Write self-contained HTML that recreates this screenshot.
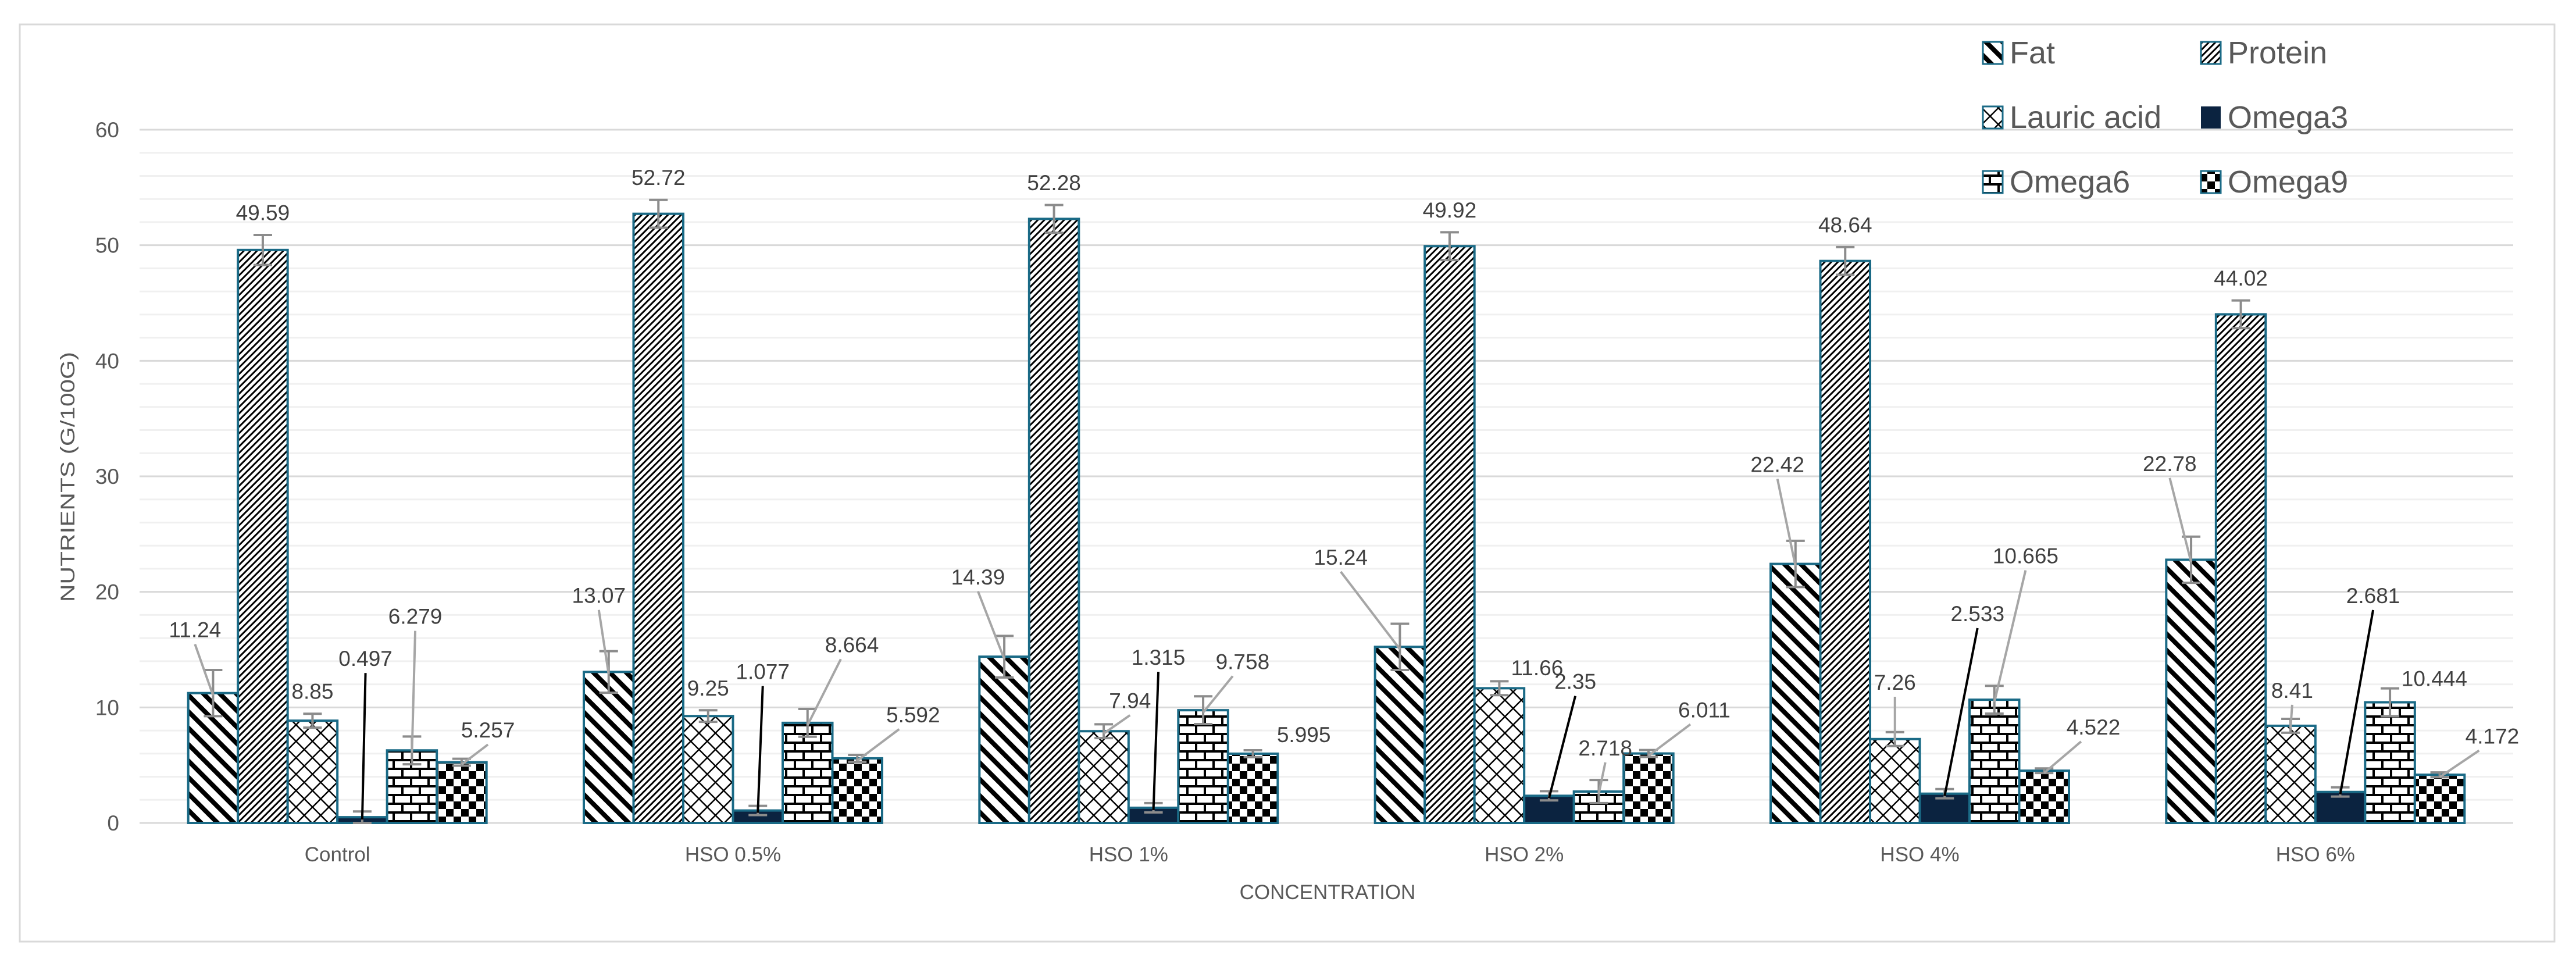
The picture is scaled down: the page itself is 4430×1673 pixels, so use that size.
<!DOCTYPE html>
<html><head><meta charset="utf-8"><style>
html,body{margin:0;padding:0;background:#fff;}
svg{display:block;font-family:"Liberation Sans",sans-serif;}
</style></head><body>
<svg id="chart" width="4430" height="1673" viewBox="0 0 4430 1673" xmlns="http://www.w3.org/2000/svg">
<defs>
<pattern id="p-fat" patternUnits="userSpaceOnUse" width="20" height="20" patternTransform="rotate(-45)">
<rect width="20" height="20" fill="#fff"/><rect width="8" height="20" fill="#000"/></pattern>
<pattern id="p-protein" patternUnits="userSpaceOnUse" width="8" height="8" patternTransform="rotate(45)">
<rect width="8" height="8" fill="#fff"/><rect width="3" height="8" fill="#000"/></pattern>
<pattern id="p-lauric" patternUnits="userSpaceOnUse" width="20" height="20" patternTransform="rotate(45)">
<rect width="20" height="20" fill="#fff"/><rect width="2.5" height="20" fill="#000"/><rect width="20" height="2.5" fill="#000"/></pattern>
<pattern id="p-omega3" patternUnits="userSpaceOnUse" width="10" height="10"><rect width="10" height="10" fill="#0b2340"/></pattern>
<pattern id="p-omega6" patternUnits="userSpaceOnUse" width="30" height="30">
<rect width="30" height="30" fill="#fff"/><rect y="0" width="30" height="4" fill="#000"/><rect y="15" width="30" height="4" fill="#000"/>
<rect x="0" y="0" width="4" height="15" fill="#000"/><rect x="15" y="15" width="4" height="15" fill="#000"/></pattern>
<pattern id="p-omega9" patternUnits="userSpaceOnUse" width="26" height="26">
<rect width="26" height="26" fill="#fff"/><rect width="13" height="13" fill="#000"/><rect x="13" y="13" width="13" height="13" fill="#000"/></pattern>
</defs>
<rect x="34" y="42" width="4359" height="1577" fill="#fff" stroke="#d9d9d9" stroke-width="3"/>
<g id="grid"></g><g id="bars"></g><g id="errs"></g><g id="labels"></g><g id="axes"></g><g id="legend"></g>
</svg>
<script>
const categories = ["Control","HSO 0.5%","HSO 1%","HSO 2%","HSO 4%","HSO 6%"];
const seriesNames = ["Fat","Protein","Lauric acid","Omega3","Omega6","Omega9"];
const fatValues = [11.24,13.07,14.39,15.24,22.42,22.78];
const proteinValues = [49.59,52.72,52.28,49.92,48.64,44.02];
const lauricValues = [8.85,9.25,7.94,11.66,7.26,8.41];
const omega3Values = [0.497,1.077,1.315,2.35,2.533,2.681];
const omega6Values = [6.279,8.664,9.758,2.718,10.665,10.444];
const omega9Values = [5.257,5.592,5.995,6.011,4.522,4.172];
const fatErr = [2.0,1.8,1.8,2.0,2.0,2.0];
const proteinErr = [1.3,1.2,1.2,1.2,1.2,1.2];
const lauricErr = [0.6,0.5,0.6,0.6,0.6,0.6];
const omega3Err = [0.5,0.4,0.4,0.4,0.4,0.4];
const omega6Err = [1.2,1.2,1.2,1.0,1.2,1.2];
const omega9Err = [0.3,0.3,0.3,0.3,0.2,0.2];
const yTicks = [0,10,20,30,40,50,60];
const labelTexts = [
 ["11.24","49.59","8.85","0.497","6.279","5.257"],
 ["13.07","52.72","9.25","1.077","8.664","5.592"],
 ["14.39","52.28","7.94","1.315","9.758","5.995"],
 ["15.24","49.92","11.66","2.35","2.718","6.011"],
 ["22.42","48.64","7.26","2.533","10.665","4.522"],
 ["22.78","44.02","8.41","2.681","10.444","4.172"]];
// label offsets (layout, thumb units) per category, per series; null = default above error bar
const labelOff = [
 [[-11,-34],null,null,[2,-92],[2,-77],[16,-15]],
 [[-6,-42],null,null,[3,-80],[27,-43],[34,-22]],
 [[-16,-44],null,[16,-14],[3,-87],[24,-25],[31,-7]],
 [[-36,-50],null,[23,-8],[16,-65],[4,-22],[34,-22]],
 [[-11,-56],null,[0,-30],[20,-105],[19,-83],[30,-22]],
 [[-13,-54],null,[1,-17],[20,-115],[27,-10],[32,-19]]];

const values=[fatValues,proteinValues,lauricValues,omega3Values,omega6Values,omega9Values];
const errs=[fatErr,proteinErr,lauricErr,omega3Err,omega6Err,omega9Err];
const pats=["p-fat","p-protein","p-lauric","p-omega3","p-omega6","p-omega9"];
const keys=["fat","protein","lauric-acid","omega3","omega6","omega9"];
const NS="http://www.w3.org/2000/svg";
const X0=240,X1=4322,Y0=1415,Y60=223,S=2.825;
const catW=(X1-X0)/categories.length, barW=85.5;
const y=v=>Y0-(v/60)*(Y0-Y60);
const xc=(i,k)=>X0+(i+0.5)*catW+(k-2.5)*barW;
function mk(tag,attrs,parent,text){const e=document.createElementNS(NS,tag);for(const a in attrs)e.setAttribute(a,attrs[a]);if(text!==undefined)e.textContent=text;parent.appendChild(e);return e;}
const G=id=>document.getElementById(id);
for(let v=2;v<60;v+=2){if(v%10)mk("line",{x1:X0,x2:X1,y1:y(v),y2:y(v),stroke:"#f0f0f0","stroke-width":3},G("grid"));}
yTicks.forEach(t=>{
 const l=mk("line",{x1:X0,x2:X1,y1:y(t),y2:y(t),stroke:"#d9d9d9","stroke-width":3},G("grid"));
 
 
 const tx=mk("text",{x:205,y:y(t)+13,"text-anchor":"end","font-size":37,fill:"#595959"},G("axes"),String(t));
 
 
});
categories.forEach((c,i)=>{
 const t=mk("text",{x:X0+(i+0.5)*catW,y:1481,"text-anchor":"middle","font-size":35,fill:"#595959"},G("axes"),c);
 
 
 for(let k=0;k<6;k++){
  const v=values[k][i],x=xc(i,k);
  const r=mk("rect",{x:x-barW/2,y:y(v),width:barW,height:Y0-y(v),fill:"url(#"+pats[k]+")",stroke:"#1a6a86","stroke-width":4},G("bars"));
  
  
  const e=errs[k][i];
  const eg=mk("g",{stroke:"#8c8c8c","stroke-width":4},G("errs"));
  
  
  mk("line",{x1:x,x2:x,y1:y(v+e),y2:y(Math.max(0,v-e))},eg);
  mk("line",{x1:x-16,x2:x+16,y1:y(v+e),y2:y(v+e)},eg);
  mk("line",{x1:x-16,x2:x+16,y1:y(Math.max(0,v-e)),y2:y(Math.max(0,v-e))},eg);
  const off=labelOff[i][k];
  let lx=x,ly;
  if(off){lx=x+off[0]*S;ly=y(v)+off[1]*S;}else{ly=y(v+e)-14*S+14;}
  if(off && Math.abs(off[1])>12){
   const x2=x, y2=y(v)+4;
   const x1=lx+(off[0]>20?-off[0]*S*0.25:0), y1=ly+12;
   mk("line",{x1:x1,y1:y1,x2:x2,y2:y2,stroke:k===3?"#000":"#a6a6a6","stroke-width":4},G("labels"));
  }
  const lt=mk("text",{x:lx,y:ly,"text-anchor":"middle","font-size":37,fill:"#404040"},G("labels"),labelTexts[i][k]);
  
  
 }
});
const yt=mk("text",{x:0,y:0,"text-anchor":"middle","font-size":34,fill:"#595959",transform:"translate(128,820) rotate(-90)","textLength":430,"lengthAdjust":"spacingAndGlyphs"},G("axes"),"NUTRIENTS (G/100G)");


const xt=mk("text",{x:2283,y:1546,"text-anchor":"middle","font-size":35,fill:"#595959"},G("axes"),"CONCENTRATION");


seriesNames.forEach((n,k)=>{
 const col=k%2,row=Math.floor(k/2);
 const bx=3410+col*375,by=72+row*111;
 const g=mk("g",{},G("legend"));
 
 
 mk("rect",{x:bx,y:by,width:34,height:38,fill:"url(#"+pats[k]+")",stroke:k===3?"none":"#1a6a86","stroke-width":3},g);
 mk("text",{x:bx+46,y:by+37,"font-size":54,fill:"#595959"},g,n);
});
</script>
</body></html>
